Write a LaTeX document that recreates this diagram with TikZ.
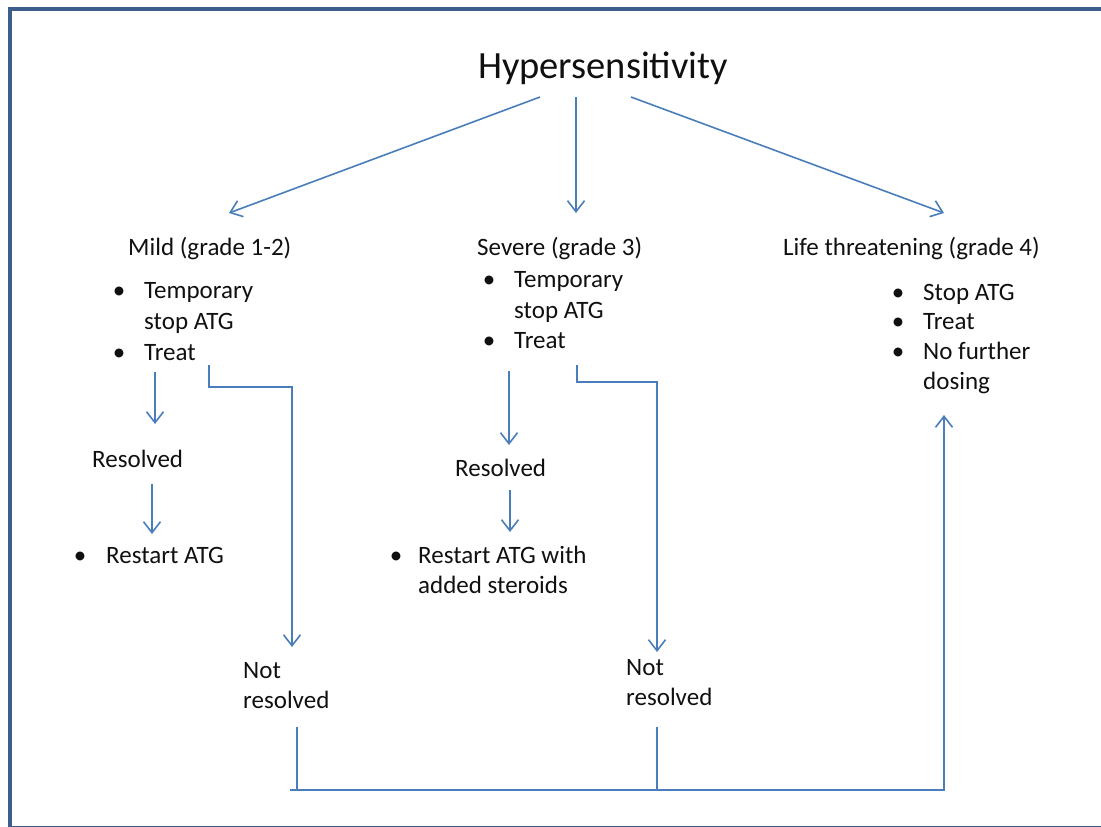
\documentclass[tikz,border=0pt]{standalone}
\usepackage{fontspec}
\setmainfont{Carlito}
\usetikzlibrary{arrows.meta}
\definecolor{arrc}{HTML}{4A7EBB}
\definecolor{framec}{HTML}{3B5E8C}
\definecolor{txtc}{HTML}{101010}
\begin{document}
\begin{tikzpicture}[x=1pt,y=-1pt,
  txt/.style={anchor=base west, inner sep=0pt, text=txtc, font=\fontsize{25}{30}\selectfont},
  bul/.style={anchor=base, inner sep=0pt, text=txtc, font=\fontsize{25}{30}\selectfont},
  ttl/.style={anchor=base, inner sep=0pt, text=txtc, font=\fontsize{38.5}{46}\selectfont},
  conn/.style={draw=arrc, line width=1.6pt},
  arrow/.style={conn, -{Straight Barb[length=11pt,width=17pt]}}]
\useasboundingbox (0,0) rectangle (1101,827);
\begin{scope}
\clip (0,0) rectangle (1101,827);
\draw[framec, line width=4pt] (1101,9) -- (10,9) -- (10,828) -- (1101,828);
\end{scope}

% title
\node[ttl] (title) at (603,78) {Hypersensitivity};

% mild
\node[txt] (mild) at (128,255) {Mild (grade 1-2)};
\node[bul] (mb1) at (119,298) {•};
\node[txt] (m1a) at (144,298) {Temporary};
\node[txt] (m1b) at (144,329) {stop ATG};
\node[bul] (mb2) at (119,360) {•};
\node[txt] (m2) at (144,360) {Treat};
\node[txt] (mres) at (92,467) {Resolved};
\node[bul] (mb3) at (80,563) {•};
\node[txt] (mrst) at (106,563) {Restart ATG};
\node[txt] (mnot1) at (243,678) {Not};
\node[txt] (mnot2) at (243,708) {resolved};

% severe
\node[txt] (sev) at (477,255) {Severe (grade 3)};
\node[bul] (sb1) at (489,287) {•};
\node[txt] (s1a) at (514,287) {Temporary};
\node[txt] (s1b) at (514,318) {stop ATG};
\node[bul] (sb2) at (489,348) {•};
\node[txt] (s2) at (514,348) {Treat};
\node[txt] (sres) at (455,476) {Resolved};
\node[bul] (sb3) at (396,563) {•};
\node[txt] (srst1) at (418,563) {Restart ATG with};
\node[txt] (srst2) at (418,593) {added steroids};
\node[txt] (snot1) at (626,675) {Not};
\node[txt] (snot2) at (626,705) {resolved};

% life threatening
\node[txt] (life) at (783,255) {Life threatening (grade 4)};
\node[bul] (lb1) at (898,300) {•};
\node[txt] (l1) at (923,300) {Stop ATG};
\node[bul] (lb2) at (898,329) {•};
\node[txt] (l2) at (923,329) {Treat};
\node[bul] (lb3) at (898,359) {•};
\node[txt] (l3a) at (923,359) {No further};
\node[txt] (l3b) at (923,389) {dosing};

% connector points
\coordinate (t1) at (540,97);
\coordinate (t2) at (576,97);
\coordinate (t3) at (631,97);
\coordinate (e1) at (229,213);
\coordinate (e2) at (576,213);
\coordinate (e3) at (944,213);

\coordinate (ma) at (155,372);
\coordinate (mb) at (155,424);
\coordinate (mc) at (209,365);
\coordinate (md) at (292,647);
\coordinate (me) at (152,484);
\coordinate (mf) at (152,534);

\coordinate (sa) at (509,371);
\coordinate (sbb) at (509,445);
\coordinate (sc) at (577,365);
\coordinate (sd) at (657,652);
\coordinate (se) at (510,490);
\coordinate (sf) at (510,532);

\coordinate (bm) at (297,727);
\coordinate (bs) at (657,727);
\coordinate (bl) at (290,790);
\coordinate (br) at (944,790);
\coordinate (bt) at (944,415);

% arrows
\draw[arrow] (t1) -- (e1);
\draw[arrow] (t2) -- (e2);
\draw[arrow] (t3) -- (e3);

\draw[arrow] (ma) -- (mb);
\draw[arrow] (mc) |- (250,387) -| (md);
\draw[arrow] (me) -- (mf);

\draw[arrow] (sa) -- (sbb);
\draw[arrow] (sc) |- (620,382) -| (sd);
\draw[arrow] (se) -- (sf);

\draw[conn] (bm) -- (297,790);
\draw[conn] (bs) -- (657,790);
\draw[arrow] (bl) -- (br) -- (bt);
\end{tikzpicture}
\end{document}
